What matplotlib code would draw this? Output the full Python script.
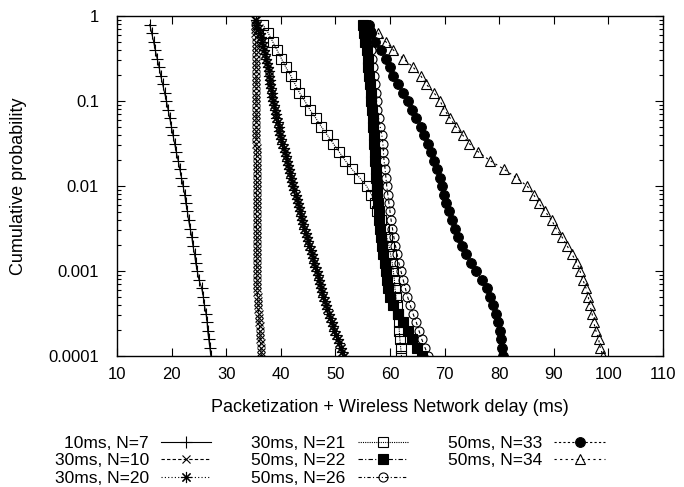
import numpy as np
import matplotlib
matplotlib.use("Agg")
import matplotlib.pyplot as plt
from matplotlib.ticker import LogLocator, FixedLocator, NullFormatter

plt.rcParams['font.family'] = ['Liberation Sans', 'DejaVu Sans']

# probability levels: 10 points per decade and 20 points per decade
levels_10 = 10 ** (-np.arange(1, 41) / 10)
levels_20 = 10 ** (-np.arange(1, 81) / 20)

# delays (ms), one value per marker
d_10ms_n7 = [16.0, 16.35, 16.7, 17.0, 17.35, 17.7, 18.0, 18.35, 18.7, 19.05,
             19.35, 19.65, 19.95, 20.25, 20.55, 20.85, 21.2, 21.5, 21.8, 22.1,
             22.4, 22.6, 22.9, 23.1, 23.4, 23.7, 23.9, 24.2, 24.4, 24.7,
             25.0, 25.5, 25.8, 26.0, 26.3, 26.5, 26.6, 26.8, 27.0, 27.2]

d_30ms_n10 = [35.3, 35.3, 35.35, 35.35, 35.4, 35.4, 35.4, 35.4, 35.45, 35.45,
              35.45, 35.45, 35.5, 35.5, 35.5, 35.5, 35.5, 35.5, 35.5, 35.5,
              35.5, 35.5, 35.5, 35.5, 35.5, 35.5, 35.5, 35.5, 35.5, 35.5,
              35.55, 35.55, 35.55, 35.55, 35.55, 35.55, 35.55, 35.55, 35.55, 35.55,
              35.55, 35.55, 35.55, 35.55, 35.55, 35.55, 35.55, 35.55, 35.55, 35.55,
              35.6, 35.6, 35.6, 35.6, 35.6, 35.6, 35.6, 35.6, 35.6, 35.6,
              35.6, 35.6, 35.65, 35.65, 35.7, 35.75, 35.8, 35.85, 35.9, 35.95,
              36.0, 36.05, 36.1, 36.15, 36.2, 36.25, 36.3, 36.35, 36.4, 36.45]

d_30ms_n20 = [35.5, 35.7, 35.9, 36.1, 36.3, 36.5, 36.7, 36.9, 37.1, 37.3,
              37.45, 37.6, 37.75, 37.85, 37.95, 38.1, 38.2, 38.3, 38.45, 38.6,
              38.75, 38.9, 39.05, 39.2, 39.4, 39.6, 39.75, 39.9, 40.1, 40.3,
              40.5, 40.7, 40.9, 41.1, 41.3, 41.5, 41.7, 41.9, 42.1, 42.3,
              42.5, 42.7, 42.9, 43.1, 43.3, 43.5, 43.7, 43.9, 44.1, 44.3,
              44.55, 44.8, 45.0, 45.2, 45.45, 45.7, 45.9, 46.1, 46.35, 46.6,
              46.8, 47.0, 47.2, 47.4, 47.6, 47.8, 48.05, 48.3, 48.55, 48.8,
              49.05, 49.3, 49.55, 49.8, 50.1, 50.4, 50.7, 51.0, 51.25, 51.5]

d_30ms_n21 = [36.7, 37.7, 38.5, 39.3, 40.1, 40.9, 41.8, 42.6, 43.4, 44.4,
              45.3, 46.4, 47.4, 48.5, 49.6, 50.7, 51.8, 53.0, 54.4, 55.7,
              56.6, 57.2, 57.7, 58.3, 58.9, 59.4, 59.8, 60.1, 60.4, 60.6,
              60.8, 60.9, 61.1, 61.2, 61.4, 61.6, 61.7, 61.8, 61.95, 62.1]

d_50ms_n22 = [55.1, 55.3, 55.5, 55.7, 55.9, 56.0, 56.2, 56.35, 56.5, 56.6,
              56.7, 56.8, 56.9, 57.0, 57.1, 57.2, 57.3, 57.4, 57.5, 57.6,
              57.7, 57.8, 57.9, 58.0, 58.2, 58.4, 58.6, 58.8, 59.0, 59.2,
              59.4, 59.7, 60.0, 60.6, 61.4, 62.3, 63.3, 64.1, 65.0, 65.8]

d_50ms_n26 = [55.8, 56.1, 56.3, 56.5, 56.7, 56.9, 57.1, 57.25, 57.4, 57.55,
              57.7, 57.9, 58.2, 58.5, 58.7, 58.8, 58.9, 59.1, 59.25, 59.4,
              59.6, 59.8, 60.0, 60.2, 60.45, 60.7, 61.0, 61.3, 61.6, 62.0,
              62.4, 62.8, 63.2, 63.7, 64.2, 64.8, 65.3, 65.8, 66.4, 67.0]

d_50ms_n33 = [56.2, 56.6, 57.3, 58.4, 59.3, 60.0, 60.6, 61.4, 62.4, 63.3,
              64.0, 64.8, 65.6, 66.3, 66.9, 67.5, 68.0, 68.6, 69.1, 69.5,
              69.9, 70.3, 70.8, 71.3, 71.9, 72.5, 73.1, 73.9, 74.8, 75.8,
              76.8, 77.7, 78.3, 78.9, 79.4, 79.8, 80.1, 80.4, 80.6, 80.7]

d_50ms_n34 = [56.4, 57.8, 59.2, 60.6, 62.4, 64.2, 65.6, 66.6, 68.0, 69.2,
              69.9, 71.0, 72.0, 73.3, 74.5, 76.2, 78.3, 80.8, 83.1, 85.1,
              86.3, 87.2, 88.4, 89.6, 90.4, 91.5, 92.4, 93.3, 94.2, 94.8,
              95.3, 95.9, 96.3, 96.6, 97.0, 97.3, 97.7, 98.2, 98.5, 99.0]

xticks = [10, 20, 30, 40, 50, 60, 70, 80, 90, 100, 110]
yticks = [1, 0.1, 0.01, 0.001, 0.0001]
ytick_labels = ["1", "0.1", "0.01", "0.001", "0.0001"]

fig = plt.figure(figsize=(6.84, 4.87), dpi=100)
ax = fig.add_axes([117 / 684, 1 - 356 / 487, 546 / 684, 340 / 487])

lw = 0.8
k = dict(color="black", linewidth=lw, markeredgewidth=lw)

ax.plot(d_10ms_n7, levels_10, label="10ms, N=7", linestyle="-",
        marker="+", markersize=9, **k)
ax.plot(d_30ms_n10, levels_20, label="30ms, N=10", linestyle=(0, (3, 2)),
        marker="x", markersize=6, **k)
ax.plot(d_30ms_n20, levels_20, label="30ms, N=20", linestyle=(0, (1, 2)),
        marker=(8, 2, 0), markersize=8, **k)
ax.plot(d_30ms_n21, levels_10, label="30ms, N=21", linestyle=(0, (1, 1)),
        marker="s", markersize=7, markerfacecolor="none", **k)
ax.plot(d_50ms_n22, levels_10, label="50ms, N=22", linestyle=(0, (4, 2, 1, 2)),
        marker="s", markersize=7, **k)
ax.plot(d_50ms_n26, levels_10, label="50ms, N=26", linestyle=(0, (3, 2, 1, 2)),
        marker="o", markersize=6.5, markerfacecolor="none", **k)
ax.plot(d_50ms_n33, levels_10, label="50ms, N=33", linestyle=(0, (2, 2)),
        marker="o", markersize=7, **k)
ax.plot(d_50ms_n34, levels_10, label="50ms, N=34", linestyle=(0, (2, 3)),
        marker="^", markersize=7.5, markerfacecolor="none", **k)

ax.set_yscale("log")
ax.set_xlim(10, 110)
ax.set_ylim(0.0001, 1)
ax.xaxis.set_major_locator(FixedLocator(xticks))
ax.set_yticks(yticks)
ax.set_yticklabels(ytick_labels)
ax.yaxis.set_minor_locator(LogLocator(base=10, subs=np.arange(2, 10)))
ax.yaxis.set_minor_formatter(NullFormatter())

ax.tick_params(which="both", direction="in", top=True, right=True,
               labelsize=12, width=0.8)
ax.tick_params(which="major", length=6)
ax.tick_params(axis="y", which="major", pad=13)
ax.tick_params(axis="x", which="major", pad=8)
ax.tick_params(which="minor", length=3)
for s in ax.spines.values():
    s.set_linewidth(1.0)

ax.set_xlabel("Packetization + Wireless Network delay (ms)", fontsize=13, labelpad=12)
ax.set_ylabel("Cumulative probability", fontsize=13)
ax.yaxis.set_label_coords(-0.165, 0.5)

leg = fig.legend(loc="upper left", bbox_to_anchor=(0.08, 0.105), ncol=3,
                 frameon=False, markerfirst=False, fontsize=12.5,
                 handlelength=2.9, handletextpad=0.7, columnspacing=2.3,
                 labelspacing=0.13, borderpad=0, borderaxespad=0)

fig.savefig("out.png", dpi=100)
